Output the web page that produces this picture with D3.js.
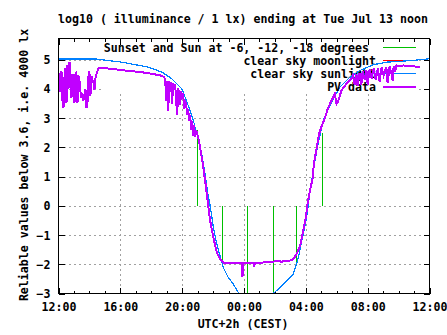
<!DOCTYPE html>
<html><head><meta charset="utf-8">
<script src="https://cdn.jsdelivr.net/npm/d3@7"></script>
<style>
html,body{margin:0;padding:0;background:#fff;}
svg text{font-family:"DejaVu Sans Mono","Liberation Mono",monospace;font-weight:bold;font-size:11.6px;fill:#000;white-space:pre;}
</style></head>
<body><svg id="c" width="447" height="335"></svg>
<script>
// ---- data (hours after Mon 12:00 noon, log10 lux) ----
const xTickHours = [0, 4, 8, 12, 16, 20, 24];
const xTickLabels = ["12:00", "16:00", "20:00", "00:00", "04:00", "08:00", "12:00"];
const yTicks = [-3, -2, -1, 0, 1, 2, 3, 4, 5];
const legendLabels = ["Sunset and Sun at -6, -12, -18 degrees ", "clear sky moonlight", "clear sky sunlight", "PV data"];
const seriesColors = ["#00c000", "#ff0000", "#0080ff", "#c000ff"];

// sunset / twilight markers: vertical lines from 0 to the given value
const sunEventHours = [8.94, 10.6, 12.17, 13.89, 15.37, 17.05];
const sunEventTops  = [2.6, -2, -3, -3, -2, 2.5];

// clear sky moonlight (not visible within the plotted range)
const moonHours = [];
const moonValues = [];

// clear sky sunlight
const sunHours = [0, 2.39, 4.11, 5.81, 6.69, 7.34, 7.98, 8.41, 8.73, 9.05, 9.27, 9.48, 9.63, 9.81,
  10.02, 10.24, 10.45, 10.66, 10.99, 11.31, 11.63, 11.8, null, 13.8, 13.89, 14.32, 14.75, 15.18, 15.4,
  15.61, 15.83, 16.05, 16.15, 16.47, 16.79, 17.12, 17.44, 17.76, 18.19, 18.84, 19.48, 20.34, 21.21,
  22.06, 22.92, 23.87, 24];
const sunValues = [5.02, 5.02, 4.91, 4.74, 4.57, 4.34, 4.0, 3.4, 2.91, 2.23, 1.77, 1.09, 0.51, 0,
  -0.74, -1.31, -1.71, -2.11, -2.46, -2.68, -2.97, -3.1, null, -3.1, -3.0, -2.8, -2.57, -2.34, -2.0,
  -1.54, -0.97, -0.4, 0, 1.2, 2.11, 2.91, 3.31, 3.63, 4.05, 4.39, 4.62, 4.82, 4.91,
  4.94, 4.97, 5.02, 5.03];

// PV sensor data
const pvHours = [0.065, 0.129, 0.194, 0.258, 0.323, 0.387, 0.452, 0.516, 0.581, 0.645, 0.710, 0.774,
  0.839, 0.903, 0.968, 1.032, 1.097, 1.161, 1.226, 1.290, 1.355, 1.419, 1.484, 1.548, 1.613, 1.677,
  1.742, 1.806, 1.871, 1.935, 2.0, 2.065, 2.129, 2.194, 2.258, 2.323, 2.387, 2.452, 2.516, 2.581, 2.645,
  2.71, 2.97, 3.23, 3.55, 3.87, 4.13, 4.52, 4.97, 5.29, 5.61, 5.94, 6.26, 6.58, 6.84,
  6.90, 6.97, 7.03, 7.10, 7.16, 7.23, 7.29, 7.35, 7.42, 7.48, 7.55, 7.61, 7.68, 7.74, 7.81, 7.87, 7.94,
  8.0, 8.06, 8.13, 8.19, 8.26, 8.32, 8.39, 8.45, 8.52, 8.58, 8.65, 8.71, 8.77, 8.84, 8.90,
  9.05, 9.16, 9.37, 9.48, 9.55, 9.59, 9.70, 9.81, 10.02, 10.24, 10.45, 10.66, 11.10, 11.40, 11.87,
  11.90, 11.94, 12.11, 12.6, 12.65, 12.71, 13.25, 13.89, 14.32, 14.42, 14.52, 14.75, 15.08, 15.29,
  15.50, 15.66, 15.83, 16.0, 16.11, 16.26, 16.43, 16.52, 16.69, 16.86, 17.01, 17.23, 17.44, 17.66,
  17.87, 17.98, 18.08, 18.3, 18.63, 18.84, 18.97, 19.05, 19.16, 19.27, 19.35, 19.48, 19.59, 19.68,
  19.81, 19.92, 20.0, 20.13, 20.26, 20.39, 20.52, 20.66, 20.77, 20.9, 21.03, 21.21, 21.29, 21.42,
  21.55, 21.61, 21.68, 21.77, 21.87, 22.06, 22.32, 22.58, 22.84, 23.1, 23.4];
const pvValues = [4.55, 3.9, 4.6, 3.6, 3.35, 4.4, 4.7, 3.5, 4.8, 4.0, 4.92, 4.3,
  3.7, 4.5, 4.4, 3.5, 4.5, 4.55, 3.5, 4.45, 4.3, 3.9, 3.7, 3.85, 3.6, 3.7,
  4.0, 3.35, 3.45, 4.4, 4.6, 3.75, 4.45, 4.2, 4.3, 3.95, 4.35, 4.5, 4.6, 4.7, 4.72,
  4.70, 4.72, 4.69, 4.68, 4.65, 4.64, 4.61, 4.59, 4.57, 4.55, 4.52, 4.49, 4.46, 4.40,
  4.32, 3.6, 4.28, 3.25, 4.25, 3.9, 4.22, 3.48, 4.18, 4.0, 4.15, 3.6, 3.1, 4.02, 3.8, 3.45, 3.92,
  3.7, 3.85, 3.3, 3.6, 3.45, 3.1, 3.3, 2.9, 3.1, 2.6, 2.9, 2.4, 2.75, 2.35, 2.6,
  2.3, 2.0, 1.31, 0.86, 0.63, 0.4, -0.06, -0.51, -1.09, -1.6, -1.83, -1.94, -1.97, -1.94, -1.95,
  -2.45, -1.95, -1.96, -1.97, -2.05, -1.97, -1.94, -1.91, -1.88, -1.93, -1.88, -1.89, -1.86, -1.75,
  -1.54, -1.31, -0.86, -0.4, 0.06, 0.51, 0.9, 1.43, 1.94, 2.46, 2.7, 3.0, 3.35, 3.6,
  3.83, 3.48, 3.55, 3.94, 4.17, 4.28, 4.35, 4.45, 4.15, 4.5, 4.1, 4.55, 4.12, 4.6,
  4.3, 4.65, 4.15, 4.68, 4.35, 4.7, 4.3, 4.72, 4.25, 4.74, 4.45, 4.75, 4.2, 4.76,
  4.5, 4.28, 4.78, 4.58, 4.8, 4.78, 4.8, 4.78, 4.79, 4.76, 4.75];

// ---- drawing ----
const svg = d3.select("#c");
const L = 58.5, R = 429.5, T = 38.5, B = 293.5;
const x = d3.scaleLinear().domain([0, 24]).range([L, R]);
const y = d3.scaleLinear().domain([-3, 5.72]).range([B, T]);

svg.append("rect").attr("width", 447).attr("height", 335).attr("fill", "#fff");

svg.append("defs").append("clipPath").attr("id", "clip")
  .append("rect").attr("x", L).attr("y", T).attr("width", R - L).attr("height", B - T);

// grid
const grid = svg.append("g").attr("stroke", "#a0a0a0").attr("stroke-dasharray", "2,3")
  .attr("shape-rendering", "crispEdges");
xTickHours.slice(1, -1).forEach(h => {
  grid.append("line").attr("x1", Math.round(x(h)) + 0.5).attr("x2", Math.round(x(h)) + 0.5)
    .attr("y1", T).attr("y2", B);
});
yTicks.slice(1).forEach(v => {
  grid.append("line").attr("y1", Math.round(y(v)) + 0.5).attr("y2", Math.round(y(v)) + 0.5)
    .attr("x1", L).attr("x2", R);
});

// opaque key area
svg.append("rect").attr("x", 104).attr("y", 39).attr("width", 314).attr("height", 53).attr("fill", "#fff");

// axes (ticks mirrored)
const axB = d3.axisBottom(x).tickValues(xTickHours).tickFormat((d, i) => xTickLabels[i]).tickSize(0).tickPadding(0);
const gB = svg.append("g").attr("transform", `translate(0,${B})`).call(axB);
gB.select(".domain").remove();
gB.selectAll("text").attr("y", 17.5).attr("dy", null).attr("font-size", null).attr("font-family", null).attr("fill", null);

const axL = d3.axisLeft(y).tickValues(yTicks).tickFormat(d3.format("d")).tickSize(0).tickPadding(0);
const gL = svg.append("g").attr("transform", `translate(${L},0)`).call(axL);
gL.select(".domain").remove();
gL.selectAll("text").attr("x", -8).attr("dy", "0.36em").attr("font-size", null).attr("font-family", null).attr("fill", null);

const ticks = svg.append("g").attr("stroke", "#000").attr("shape-rendering", "crispEdges");
d3.range(0, 25, 1).forEach(h => {
  const len = (h % 4 === 0) ? 6 : 3;
  const px = Math.round(x(h)) + 0.5;
  ticks.append("line").attr("x1", px).attr("x2", px).attr("y1", B).attr("y2", B - len);
  ticks.append("line").attr("x1", px).attr("x2", px).attr("y1", T).attr("y2", T + len);
});
yTicks.forEach(v => {
  const py = Math.round(y(v)) + 0.5;
  ticks.append("line").attr("x1", L).attr("x2", L + 6).attr("y1", py).attr("y2", py);
  ticks.append("line").attr("x1", R).attr("x2", R - 6).attr("y1", py).attr("y2", py);
});

// series with key entries (key text / sample drawn before each series)
const keyRowY = [47.5, 60.5, 73.5, 86.5];
function keyEntry(i) {
  svg.append("text").attr("x", 376).attr("y", keyRowY[i] + 4).attr("text-anchor", "end").text(legendLabels[i]);
  svg.append("line").attr("x1", 383).attr("x2", 416).attr("y1", keyRowY[i]).attr("y2", keyRowY[i])
    .attr("stroke", seriesColors[i]).attr("stroke-width", i === 3 ? 2 : 1).attr("shape-rendering", "crispEdges");
}
const plot = () => svg.append("g").attr("clip-path", "url(#clip)");

keyEntry(0);
const gSun = plot();
sunEventHours.forEach((h, i) => {
  const px = Math.round(x(h)) + 0.5;
  gSun.append("line").attr("x1", px).attr("x2", px).attr("y1", y(0)).attr("y2", y(sunEventTops[i]))
    .attr("stroke", seriesColors[0]).attr("stroke-width", 1).attr("shape-rendering", "crispEdges");
});

keyEntry(1);
const line = d3.line().defined(d => d[1] !== null).x(d => x(d[0])).y(d => y(d[1]));
plot().append("path").datum(moonHours.map((h, i) => [h, moonValues[i]]))
  .attr("d", line).attr("fill", "none").attr("stroke", seriesColors[1]);

keyEntry(2);
plot().append("path").datum(sunHours.map((h, i) => [h, sunValues[i]]))
  .attr("d", line).attr("fill", "none").attr("stroke", seriesColors[2]).attr("stroke-width", 1.2)
  .attr("shape-rendering", "crispEdges");

keyEntry(3);
plot().append("path").datum(pvHours.map((h, i) => [h, pvValues[i]]))
  .attr("d", line).attr("fill", "none").attr("stroke", seriesColors[3]).attr("stroke-width", 2)
  .attr("stroke-linejoin", "miter").attr("shape-rendering", "crispEdges");

// border
svg.append("rect").attr("x", L).attr("y", T).attr("width", R - L).attr("height", B - T)
  .attr("fill", "none").attr("stroke", "#000").attr("shape-rendering", "crispEdges");

// titles
svg.append("text").attr("x", 243).attr("y", 23).attr("text-anchor", "middle")
  .text("log10 ( illuminance / 1 lx) ending at Tue Jul 13 noon");
svg.append("text").attr("x", 243).attr("y", 328).attr("text-anchor", "middle").text("UTC+2h (CEST)");
svg.append("text").attr("transform", "translate(28,165) rotate(-90)").attr("text-anchor", "middle")
  .text("Reliable values below 3.6, i.e. 4000 lx");
</script></body></html>
